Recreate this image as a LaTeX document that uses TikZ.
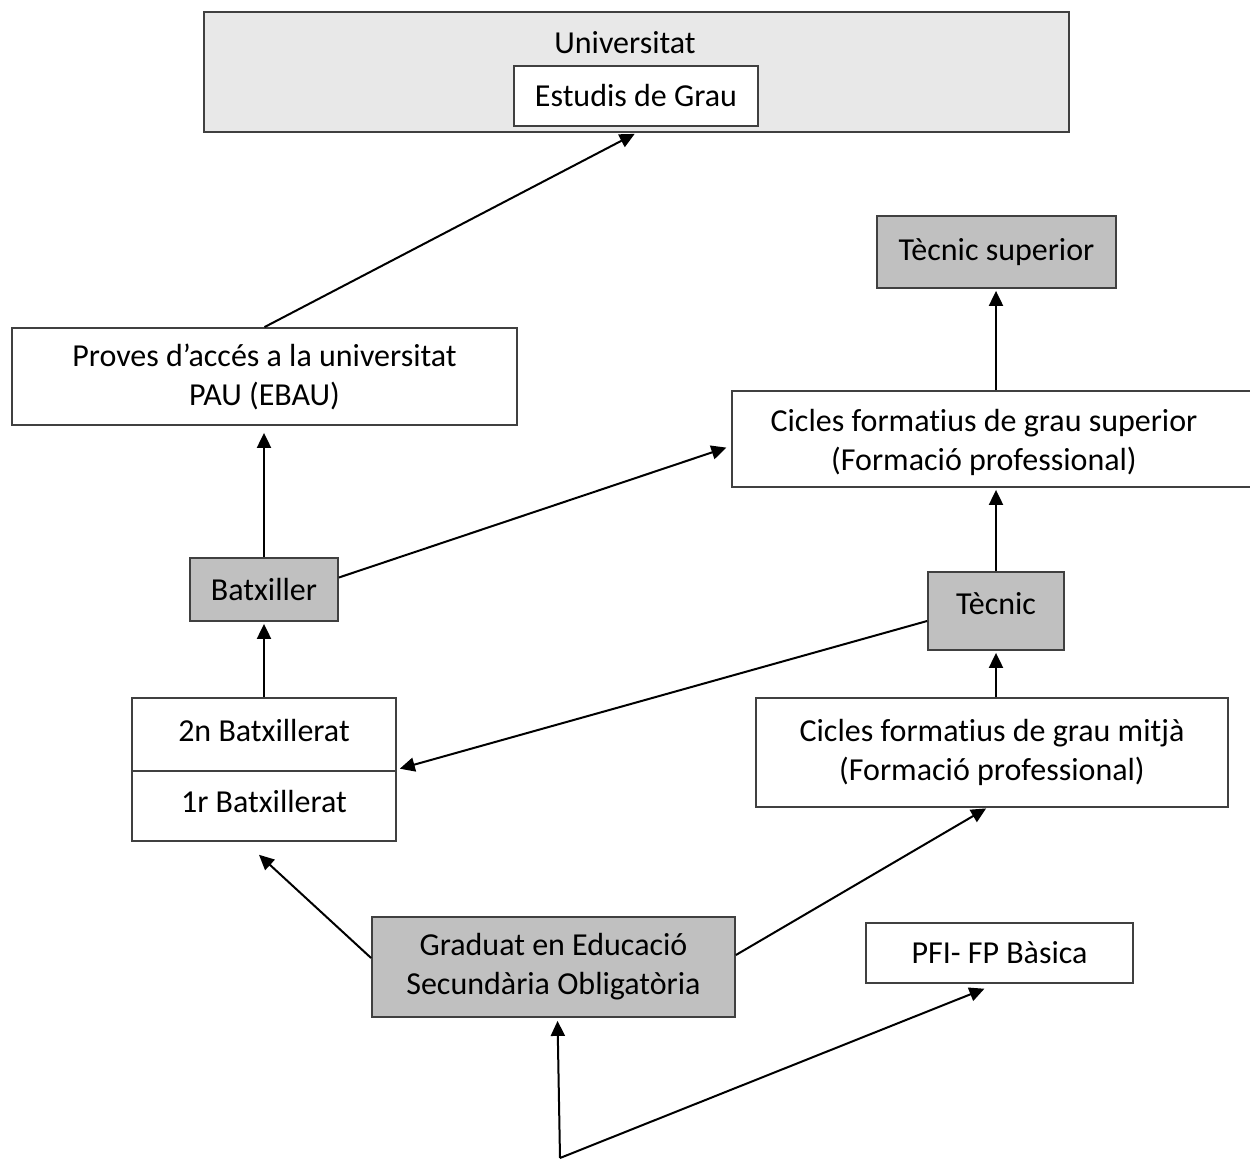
\documentclass[tikz,border=0pt]{standalone}
\usepackage{fontspec}
\setmainfont{Carlito}[Ligatures=NoCommon]
\usepackage{xcolor}
\usepackage{tikz}
\usetikzlibrary{arrows.meta,positioning}
\definecolor{titol}{RGB}{192,192,192}
\definecolor{fons}{RGB}{232,232,232}
\definecolor{vora}{RGB}{64,64,64}

\begin{document}
\begin{tikzpicture}[
  x=1pt, y=-1pt,
  every node/.style={font=\fontsize{32}{39}\selectfont, align=center, inner sep=0pt},
  caixa/.style={draw=vora, line width=1.8pt, fill=white},
  gris/.style={caixa, fill=titol},
  fletxa/.style={-{Triangle[length=15pt, width=14pt]}, line width=2pt}
]
\useasboundingbox (0,0) rectangle (1250,1159);

\node[caixa, fill=fons, minimum width=865pt, minimum height=120pt] (univ) at (636.5,72) {};
\node (univtext) at (625,43) {Universitat};
\node[caixa, minimum width=244pt, minimum height=60pt] (grau) at (636,96) {Estudis de Grau};
\node[gris, minimum width=239pt, minimum height=72pt] (tecsup) at (996.5,252) {Tècnic superior};
\node[caixa, minimum width=505pt, minimum height=97pt] (pau) at (264.5,376.5) {Proves d’accés a la universitat\\PAU (EBAU)};
\node[caixa, minimum width=530pt, minimum height=96pt,
  label={[xshift=-13pt, yshift=-3pt, align=center]center:Cicles formatius de grau superior\\(Formació professional)}] (cgs) at (997,439) {};
\node[gris, minimum width=148pt, minimum height=63pt] (batxiller) at (264,589.5) {Batxiller};
\node[gris, minimum width=136pt, minimum height=78pt,
  label={[yshift=7pt]center:Tècnic}] (tecnic) at (996,611) {};
\node[caixa, minimum width=264pt, minimum height=143pt] (batx) at (264,769.5) {};
\draw[draw=vora, line width=1.8pt] ([yshift=-1.5pt]batx.west) -- ([yshift=-1.5pt]batx.east);
\node (batx2) at (264,730) {2n Batxillerat};
\node (batx1) at (264,801) {1r Batxillerat};
\node[caixa, minimum width=472pt, minimum height=109pt] (cgm) at (992,752.5) {Cicles formatius de grau mitjà\\(Formació professional)};
\node[gris, minimum width=363pt, minimum height=100pt] (eso) at (553.5,967) {Graduat en Educació\\Secundària Obligatòria};
\node[caixa, minimum width=267pt, minimum height=60pt] (pfi) at (999.5,953) {PFI- FP Bàsica};
\coordinate (inici) at (560,1158);

\draw[fletxa, shorten >=15pt] (pau.north) -- ([xshift=12pt]grau.south);
\draw[fletxa, shorten >=7pt] (batxiller.north) -- (batxiller.north |- pau.south);
\draw[fletxa, shorten >=5pt] ([yshift=12pt]batxiller.east) -- ([yshift=-7pt]cgs.west);
\draw[fletxa, shorten >=2pt] (tecnic.north |- cgs.north) -- (tecnic.north |- tecsup.south);
\draw[fletxa, shorten >=2pt] (tecnic.north) -- (cgs.south -| tecnic.north);
\draw[fletxa, shorten >=3pt] ([yshift=-10pt]tecnic.west) -- (batx.east);
\draw[fletxa, shorten >=2pt] (cgm.north -| tecnic.south) -- (tecnic.south);
\draw[fletxa, shorten >=2pt] (batx.north) -- (batxiller.south);
\draw[fletxa, shorten >=19pt] ([yshift=9pt]eso.west) -- ([xshift=-19pt]batx.south);
\draw[fletxa, shorten >=1pt] ([yshift=12pt]eso.east) -- ([xshift=-5pt]cgm.south);
\draw[fletxa, shorten >=3pt] (inici) -- ([xshift=4pt]eso.south);
\draw[fletxa, shorten >=13pt] (inici) -- ([xshift=-3pt]pfi.south);
\end{tikzpicture}
\end{document}
